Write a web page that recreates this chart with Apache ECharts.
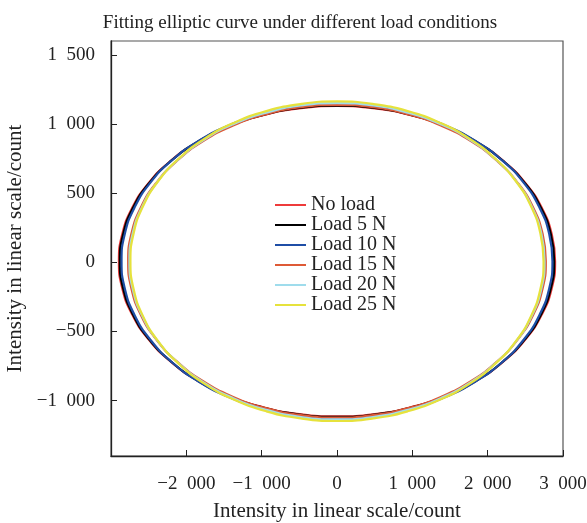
<!DOCTYPE html>
<html>
<head>
<meta charset="utf-8">
<script src="https://cdn.jsdelivr.net/npm/echarts@6/dist/echarts.min.js"></script>
<style>
  html, body { margin: 0; padding: 0; background: #fff; }
  #chart { width: 587px; height: 523px; }
</style>
</head>
<body>
<div id="chart"></div>
<script>
const seriesNames = ['No load', 'Load 5 N', 'Load 10 N', 'Load 15 N', 'Load 20 N', 'Load 25 N']
const seriesColors = ['#ee3b3b', '#000000', '#1f4ea6', '#de5a36', '#9fdcec', '#e6e23c']

const noLoadX = [2895, 2851, 2720, 2507, 2218, 1861, 1448, 990, 503, 0, -503, -990, -1448, -1861, -2218, -2507, -2720, -2851, -2895, -2851, -2720, -2507, -2218, -1861, -1448, -990, -503, 0, 503, 990, 1448, 1861, 2218, 2507, 2720, 2851]
const noLoadY = [8, 203, 392, 569, 729, 867, 980, 1062, 1113, 1130, 1113, 1062, 980, 867, 729, 569, 392, 203, 8, -187, -376, -553, -713, -851, -964, -1046, -1097, -1114, -1097, -1046, -964, -851, -713, -553, -376, -187]

const load5X = [2883, 2839, 2709, 2497, 2208, 1853, 1442, 986, 500, 0, -500, -986, -1442, -1853, -2208, -2497, -2709, -2839, -2883, -2839, -2709, -2497, -2208, -1853, -1442, -986, -500, 0, 500, 986, 1442, 1853, 2208, 2497, 2709, 2839]
const load5Y = [8, 203, 393, 571, 731, 870, 982, 1065, 1116, 1133, 1116, 1065, 982, 870, 731, 571, 393, 203, 8, -187, -377, -555, -715, -854, -966, -1049, -1100, -1117, -1100, -1049, -966, -854, -715, -555, -377, -187]

const load10X = [2860, 2817, 2688, 2477, 2191, 1838, 1430, 978, 496, 0, -496, -978, -1430, -1838, -2191, -2477, -2688, -2817, -2860, -2817, -2688, -2477, -2191, -1838, -1430, -978, -496, 0, 496, 978, 1430, 1838, 2191, 2477, 2688, 2817]
const load10Y = [8, 205, 396, 576, 738, 877, 991, 1075, 1126, 1143, 1126, 1075, 991, 877, 738, 576, 396, 205, 8, -189, -380, -560, -722, -861, -975, -1059, -1110, -1127, -1110, -1059, -975, -861, -722, -560, -380, -189]

const load15X = [2772, 2730, 2605, 2401, 2123, 1782, 1386, 948, 481, 0, -481, -948, -1386, -1782, -2123, -2401, -2605, -2730, -2772, -2730, -2605, -2401, -2123, -1782, -1386, -948, -481, 0, 481, 948, 1386, 1782, 2123, 2401, 2605, 2730]
const load15Y = [8, 204, 395, 573, 734, 874, 987, 1070, 1121, 1138, 1121, 1070, 987, 874, 734, 573, 395, 204, 8, -188, -379, -557, -718, -858, -971, -1054, -1105, -1122, -1105, -1054, -971, -858, -718, -557, -379, -188]

const load20X = [2755, 2713, 2589, 2386, 2110, 1771, 1378, 942, 478, 0, -478, -942, -1378, -1771, -2110, -2386, -2589, -2713, -2755, -2713, -2589, -2386, -2110, -1771, -1378, -942, -478, 0, 478, 942, 1378, 1771, 2110, 2386, 2589, 2713]
const load20Y = [8, 206, 399, 580, 743, 884, 998, 1082, 1134, 1151, 1134, 1082, 998, 884, 743, 580, 399, 206, 8, -190, -383, -564, -727, -868, -982, -1066, -1118, -1135, -1118, -1066, -982, -868, -727, -564, -383, -190]

const load25X = [2742, 2700, 2577, 2375, 2100, 1763, 1371, 938, 476, 0, -476, -938, -1371, -1763, -2100, -2375, -2577, -2700, -2742, -2700, -2577, -2375, -2100, -1763, -1371, -938, -476, 0, 476, 938, 1371, 1763, 2100, 2375, 2577, 2700]
const load25Y = [8, 209, 403, 586, 750, 893, 1008, 1093, 1145, 1163, 1145, 1093, 1008, 893, 750, 586, 403, 209, 8, -193, -387, -570, -734, -877, -992, -1077, -1129, -1147, -1129, -1077, -992, -877, -734, -570, -387, -193]

const xTicks = [-3000, 3000, 1000]
const yRange = [-1400, 1600]

const curves = [
  [noLoadX, noLoadY],
  [load5X, load5Y],
  [load10X, load10Y],
  [load15X, load15Y],
  [load20X, load20Y],
  [load25X, load25Y]
]

// join the x/y lists; run one step past the start so the smoothed loop closes cleanly
const toPoints = (xs, ys) => {
  const pts = xs.map((x, i) => [x, ys[i]])
  pts.push(pts[0], pts[1])
  return pts
}

const fmt = (v) => {
  const s = Math.abs(v).toString().replace(/\B(?=(\d{3})+(?!\d))/g, '\u2007')
  return (v < 0 ? '\u2212' : '') + s
}

const serif = 'Liberation Serif'

const chart = echarts.init(document.getElementById('chart'))

chart.setOption({
  animation: false,
  title: {
    text: 'Fitting elliptic curve under different load conditions',
    left: 295,
    textAlign: 'center',
    top: 9,
    textStyle: { fontFamily: serif, fontSize: 19, fontWeight: 'normal', color: '#222' }
  },
  legend: {
    data: seriesNames,
    orient: 'vertical',
    left: 275,
    top: 195,
    padding: 0,
    icon: 'rect',
    itemWidth: 31,
    itemHeight: 2,
    itemGap: 0,
    textStyle: { fontFamily: serif, fontSize: 20, color: '#222', lineHeight: 20 }
  },
  grid: {
    left: 111, right: 24, top: 41, bottom: 67,
    outerBoundsMode: 'none',
    show: true,
    borderColor: '#555',
    borderWidth: 1.2
  },
  xAxis: {
    type: 'value',
    min: xTicks[0],
    max: xTicks[1],
    interval: xTicks[2],
    name: 'Intensity in linear scale/count',
    nameLocation: 'middle',
    nameGap: 45,
    nameTextStyle: { fontFamily: serif, fontSize: 21, color: '#222' },
    axisLine: { show: true, onZero: false, lineStyle: { color: '#222', width: 1.3 } },
    axisTick: { show: true, inside: true, length: 6, lineStyle: { color: '#222' } },
    axisLabel: { showMinLabel: false, margin: 19, fontFamily: serif, fontSize: 19, color: '#222', formatter: fmt },
    splitLine: { show: false }
  },
  yAxis: {
    type: 'value',
    min: yRange[0],
    max: yRange[1],
    name: 'Intensity in linear scale/count',
    nameLocation: 'middle',
    nameGap: 82,
    nameTextStyle: { fontFamily: serif, fontSize: 21, color: '#222' },
    axisLine: { show: true, onZero: false, lineStyle: { color: '#222', width: 1.3 } },
    axisTick: { show: true, inside: true, length: 6, lineStyle: { color: '#222' } },
    axisLabel: {
      showMinLabel: false, showMaxLabel: false, margin: 16,
      fontFamily: serif, fontSize: 19, color: '#222',
      formatter: (v) => (v % 500 === 0 ? fmt(v) : '')
    },
    splitLine: { show: false }
  },
  series: curves.map(([xs, ys], i) => ({
    name: seriesNames[i],
    type: 'line',
    data: toPoints(xs, ys),
    smooth: 0.5,
    symbol: 'none',
    lineStyle: { width: 2.2, color: seriesColors[i] },
    itemStyle: { color: seriesColors[i] }
  }))
})
</script>
</body>
</html>
